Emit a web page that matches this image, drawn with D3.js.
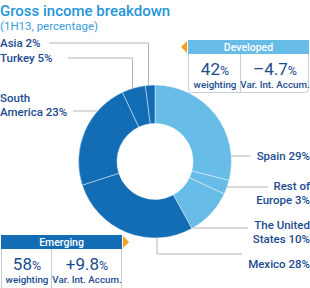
<!DOCTYPE html>
<html>
<head>
<meta charset="utf-8">
<script src="https://cdn.jsdelivr.net/npm/d3@7"></script>
<style>
  body { margin:0; background:#fff; }
  svg { display:block; font-family: Roboto, "Open Sans", sans-serif; }
</style>
</head>
<body>
<div id="canvas"></div>
<script>
// data
var regions = ['Spain', 'Rest of Europe', 'The United States', 'Mexico', 'South America', 'Turkey', 'Asia'];
var shares = [29, 3, 10, 28, 23, 5, 2];
var groups = ['Developed', 'Developed', 'Developed', 'Emerging', 'Emerging', 'Emerging', 'Emerging'];
var groupNames = ['Developed', 'Emerging'];
var groupWeight = ['42', '58'];
var groupVar = ['\u20134.7', '+9.8'];

var W = 310, H = 288;
var cx = 155, cy = 161.5, R = 76.5, r = 38;

var svg = d3.select('#canvas').append('svg')
    .attr('width', W).attr('height', H);

var lightBlue = '#67bde7', darkBlue = '#126db4', textBlue = '#1c4b8f', lineGrey = '#b4b4b4';
var color = d3.scaleOrdinal().domain(groupNames).range([lightBlue, darkBlue]);

// title
svg.append('text').attr('x', 0).attr('y', 16)
    .attr('fill', '#2596d5').attr('font-size', 15).attr('font-weight', 500)
    .text('Gross income breakdown');
svg.append('text').attr('x', 0).attr('y', 30)
    .attr('fill', '#3aa0da').attr('font-size', 11.5)
    .text('(1H13, percentage)');

// donut
var pie = d3.pie().sort(null).value(function(d){ return d; });
var arcs = pie(shares);
var arc = d3.arc().innerRadius(r).outerRadius(R);

var g = svg.append('g').attr('transform', 'translate(' + cx + ',' + cy + ')');
g.selectAll('path').data(arcs).enter().append('path')
    .attr('d', arc)
    .attr('fill', function(d, i){ return color(groups[i]); })
    .attr('stroke', 'rgba(255,255,255,0.55)')
    .attr('stroke-width', 0.8);

// leader lines + labels (layout only)
var labelLayout = [
  {type:'h', y:156, x:250, side:'r', lines:['Spain 29%'], ty:[160], tx:310},
  {type:'h', y:187, x:268, side:'r', lines:['Rest of', 'Europe 3%'], ty:[190, 204], tx:310},
  {type:'h', y:228, x:248, side:'r', lines:['The United', 'States 10%'], ty:[229, 243], tx:310},
  {type:'m', y:254, x:242, vx:157, side:'r', lines:['Mexico 28%'], ty:[268], tx:310},
  {type:'h', y:111, x:73, side:'l', lines:['South', 'America 23%'], ty:[102, 116], tx:0},
  {type:'v', y:58, x:68, side:'l', lines:['Turkey 5%'], ty:[62], tx:0},
  {type:'v', y:43, x:49, side:'l', lines:['Asia 2%'], ty:[47], tx:0}
];

function edgeX(y, side){
  var dy = y - cy;
  var dx = Math.sqrt(R*R - dy*dy);
  return side === 'r' ? cx + dx : cx - dx;
}

labelLayout.forEach(function(L, i){
  var pts;
  if (L.type === 'h') {
    pts = [[edgeX(L.y, L.side), L.y], [L.x, L.y]];
  } else if (L.type === 'v') {
    var mid = (arcs[i].startAngle + arcs[i].endAngle) / 2;
    var vx = Math.round(cx + R * Math.sin(mid) - 2) + 0.5;
    var vy = cy - Math.sqrt(R*R - (vx-cx)*(vx-cx));
    pts = [[vx, vy], [vx, L.y], [L.x, L.y]];
  } else {
    var vy2 = cy + Math.sqrt(R*R - (L.vx-cx)*(L.vx-cx));
    pts = [[L.vx, vy2], [L.vx, L.y], [L.x, L.y]];
  }
  svg.append('path')
    .attr('d', d3.line()(pts))
    .attr('fill', 'none').attr('stroke', lineGrey).attr('stroke-width', 1);

  var t = svg.append('text')
    .attr('fill', textBlue).attr('font-size', 11.5).attr('font-weight', 500)
    .attr('text-anchor', L.side === 'r' ? 'end' : 'start');
  L.lines.forEach(function(s, k){
    t.append('tspan').attr('x', L.tx).attr('y', L.ty[k]).text(s);
  });
});

// summary boxes
var boxLayout = [
  {x:188, y:40, w:120, h:52, div:240, arrow:'l'},
  {x:1, y:235, w:120, h:56, div:51, arrow:'r'}
];

groupNames.forEach(function(name, i){
  var B = boxLayout[i];
  var bg = svg.append('g');
  bg.append('rect').attr('x', B.x + 0.5).attr('y', B.y + 0.5)
    .attr('width', B.w).attr('height', B.h).attr('rx', 3)
    .attr('fill', '#fff').attr('stroke', '#c9ced4').attr('stroke-width', 1);
  bg.append('rect').attr('x', B.x).attr('y', B.y)
    .attr('width', B.w + 1).attr('height', 14)
    .attr('fill', color(name));
  bg.append('line').attr('x1', B.div + 0.5).attr('x2', B.div + 0.5)
    .attr('y1', B.y + 14).attr('y2', B.y + B.h)
    .attr('stroke', '#c9ced4');
  bg.append('text').attr('x', B.x + B.w/2 + 0.5).attr('y', B.y + 11)
    .attr('text-anchor', 'middle').attr('fill', '#fff')
    .attr('font-size', 10.5).attr('font-weight', 500).text(name);

  // orange arrow
  var ay = B.y + 7;
  var tri = B.arrow === 'l'
    ? [[B.x - 1, ay - 6], [B.x - 7, ay], [B.x - 1, ay + 6]]
    : [[B.x + B.w + 2, ay - 6], [B.x + B.w + 8, ay], [B.x + B.w + 2, ay + 6]];
  bg.append('path').attr('d', d3.line()(tri) + 'Z').attr('fill', '#f5a01f');

  var c1 = (B.x + B.div) / 2 + 1, c2 = (B.div + B.x + B.w) / 2 + 1;
  var vals = [groupWeight[i], groupVar[i]], subs = ['weighting', 'Var. Int. Accum.'];
  [c1, c2].forEach(function(c, k){
    var n = bg.append('text').attr('x', c).attr('y', B.y + 35)
      .attr('text-anchor', 'middle').attr('fill', textBlue);
    n.append('tspan').attr('font-size', 17).text(vals[k]);
    n.append('tspan').attr('font-size', 12.5).text('%');
    bg.append('text').attr('x', c).attr('y', B.y + 48)
      .attr('text-anchor', 'middle').attr('fill', textBlue)
      .attr('font-size', 9.8).attr('font-weight', 500).text(subs[k]);
  });
});
</script>
</body>
</html>
